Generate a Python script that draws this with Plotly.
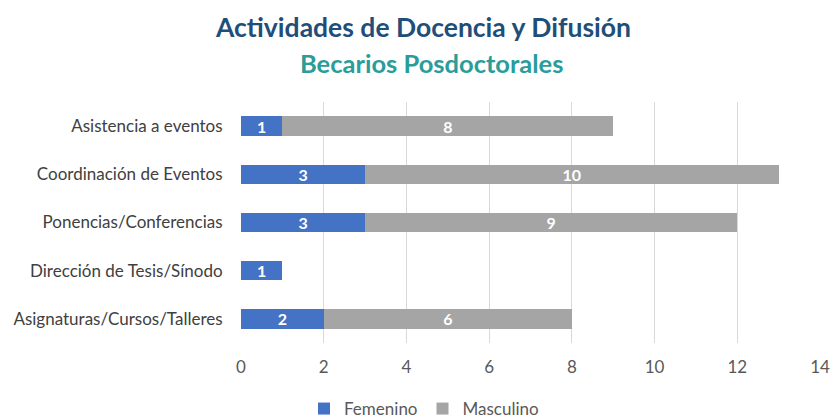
import plotly.graph_objects as go

categories = ["Asignaturas/Cursos/Talleres", "Dirección de Tesis/Sínodo",
              "Ponencias/Conferencias", "Coordinación de Eventos", "Asistencia a eventos"]
femenino = [2, 1, 3, 3, 1]
masculino = [6, None, 9, 10, 8]
x_ticks = [0, 2, 4, 6, 8, 10, 12, 14]

font_family = "Lato, Open Sans, sans-serif"

fig = go.Figure()
fig.add_trace(go.Bar(
    y=categories, x=femenino, name="Femenino", orientation="h",
    marker=dict(color="#4472C4", line=dict(width=0)),
    text=[str(v) for v in femenino], textposition="inside", insidetextanchor="middle",
    textangle=0, constraintext="none",
    textfont=dict(color="white", size=16, family=font_family, weight="bold"),
))
fig.add_trace(go.Bar(
    y=categories, x=masculino, name="Masculino", orientation="h",
    marker=dict(color="#A5A5A5", line=dict(width=0)),
    text=["" if v is None else str(v) for v in masculino], textposition="inside",
    insidetextanchor="middle", textangle=0, constraintext="none",
    textfont=dict(color="white", size=16, family=font_family, weight="bold"),
))

L, R, T, B = 241, 13, 102, 75
pw = 833 - L - R
ph = 418 - T - B

fig.update_layout(
    width=833, height=418,
    barmode="stack", bargap=0.6,
    paper_bgcolor="white", plot_bgcolor="white",
    margin=dict(l=L, r=R, t=T, b=B, autoexpand=False),
    font=dict(family=font_family, color="#595959", size=16),
    showlegend=True,
    legend=dict(orientation="h", x=(424 - L) / pw, xanchor="center",
                y=-66 / ph, yanchor="middle",
                font=dict(size=17, color="#595959"), traceorder="normal",
                itemwidth=30),
)
fig.add_annotation(text="<b>Actividades de Docencia y Difusión</b>", xref="paper", yref="paper",
                   x=(423 - L) / pw, y=1 + (T - 27) / ph,
                   showarrow=False, xanchor="center", yanchor="middle",
                   font=dict(size=26.5, color="#1F4E79", family=font_family))
fig.add_annotation(text="<b>Becarios Posdoctorales</b>", xref="paper", yref="paper",
                   x=(431 - L) / pw, y=1 + (T - 63) / ph,
                   showarrow=False, xanchor="center", yanchor="middle",
                   font=dict(size=25.5, color="#2A9D9A", family=font_family))

fig.update_xaxes(range=[0, 14], tickvals=x_ticks, showgrid=True, gridcolor="#D9D9D9",
                 gridwidth=1, zeroline=False, showline=False, ticks="",
                 ticklabelstandoff=12,
                 tickfont=dict(size=17, color="#595959"), automargin=False)
fig.update_yaxes(showgrid=False, showline=False, ticks="", ticksuffix="    ",
                 tickfont=dict(size=17, color="#404040"), automargin=False)

fig.write_html("out.html", config={"displayModeBar": False},
               post_script="document.body.style.margin='0';document.body.style.overflow='hidden';")
